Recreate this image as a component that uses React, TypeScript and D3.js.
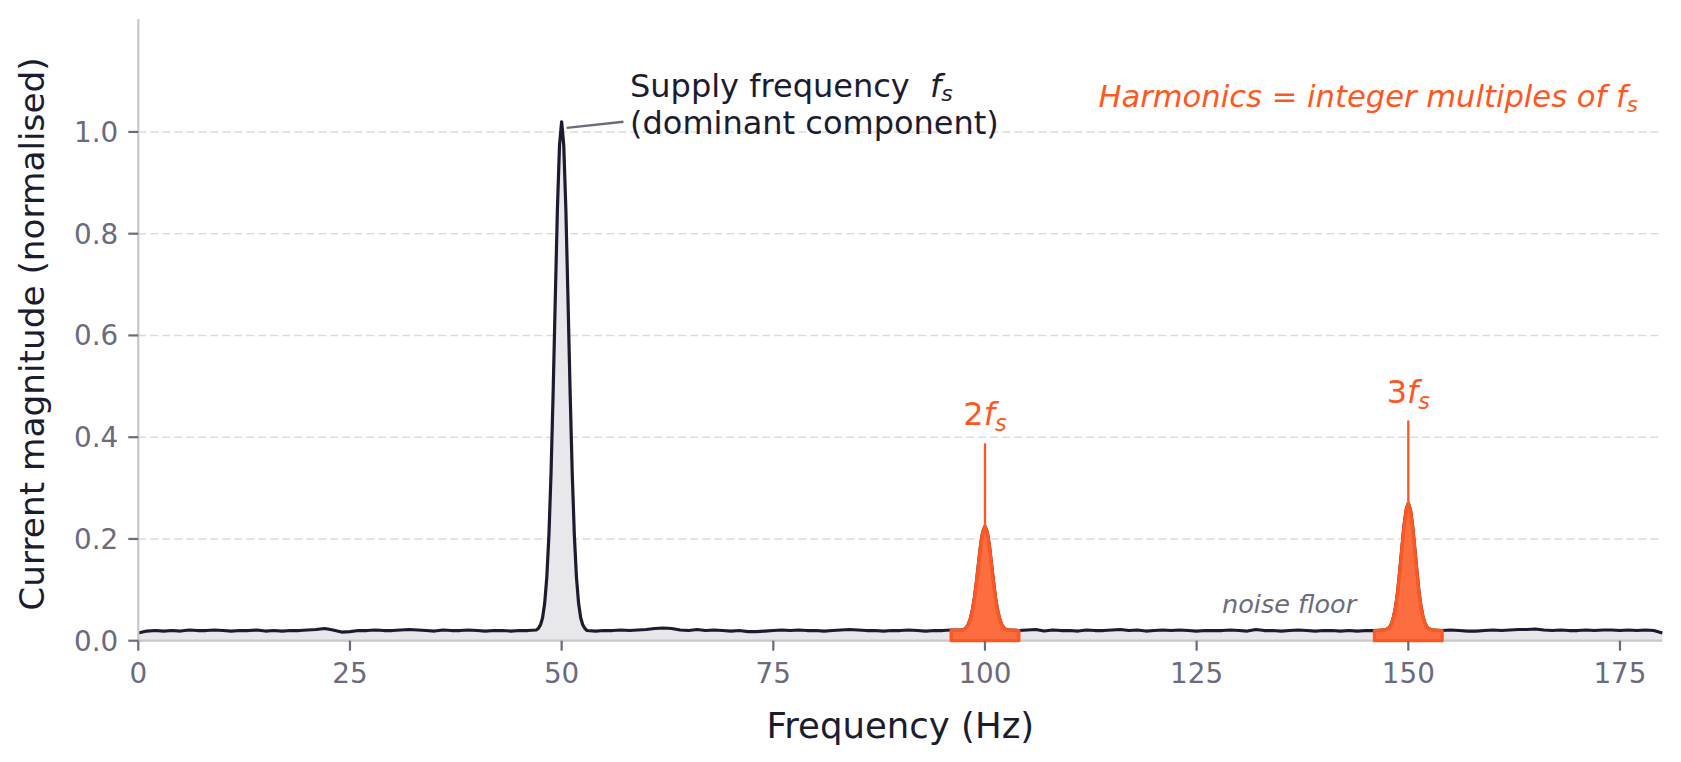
import React from 'react';
import * as d3 from 'd3';

// noise floor, one value per Hz from 0 to 180
const noiseFloor = [
  0.015, 0.019, 0.02, 0.019, 0.02, 0.019, 0.021, 0.02, 0.02, 0.021,
  0.02, 0.019, 0.02, 0.02, 0.021, 0.019, 0.02, 0.019, 0.02, 0.02,
  0.021, 0.022, 0.024, 0.021, 0.017, 0.018, 0.02, 0.02, 0.021, 0.02,
  0.02, 0.021, 0.022, 0.021, 0.02, 0.019, 0.021, 0.02, 0.02, 0.021,
  0.02, 0.019, 0.02, 0.02, 0.019, 0.02, 0.02, 0.021, 0.02, 0.02,
  0.02, 0.02, 0.02, 0.02, 0.019, 0.02, 0.02, 0.021, 0.02, 0.021,
  0.022, 0.024, 0.025, 0.024, 0.021, 0.02, 0.022, 0.02, 0.021, 0.02,
  0.019, 0.02, 0.018, 0.018, 0.019, 0.02, 0.021, 0.02, 0.021, 0.02,
  0.02, 0.019, 0.02, 0.021, 0.022, 0.021, 0.02, 0.02, 0.019, 0.02,
  0.02, 0.021, 0.02, 0.019, 0.02, 0.02, 0.021, 0.021, 0.02, 0.02,
  0.02, 0.02, 0.02, 0.021, 0.02, 0.021, 0.022, 0.019, 0.021, 0.02,
  0.02, 0.019, 0.021, 0.02, 0.02, 0.021, 0.022, 0.02, 0.021, 0.019,
  0.02, 0.021, 0.02, 0.021, 0.02, 0.019, 0.02, 0.02, 0.02, 0.021,
  0.02, 0.019, 0.022, 0.02, 0.02, 0.019, 0.02, 0.021, 0.02, 0.019,
  0.02, 0.02, 0.019, 0.02, 0.019, 0.02, 0.02, 0.021, 0.02, 0.02,
  0.02, 0.02, 0.02, 0.021, 0.02, 0.021, 0.02, 0.019, 0.019, 0.02,
  0.021, 0.02, 0.021, 0.022, 0.022, 0.023, 0.021, 0.02, 0.021, 0.02,
  0.02, 0.021, 0.02, 0.021, 0.021, 0.02, 0.021, 0.02, 0.021, 0.02,
  0.015,
];

// peaks, sampled every 0.25 Hz around the centre
const peakOffsets = [
  -2.75, -2.5, -2.25, -2, -1.75, -1.5, -1.25, -1, -0.75, -0.5, -0.25, 0,
  0.25, 0.5, 0.75, 1, 1.25, 1.5, 1.75, 2, 2.25, 2.5, 2.75,
];
const fundamentalPeak = [
  0.024, 0.031, 0.045, 0.074, 0.125, 0.208, 0.33, 0.49, 0.672, 0.848, 0.974, 1.02,
  0.974, 0.848, 0.672, 0.49, 0.33, 0.208, 0.125, 0.074, 0.045, 0.031, 0.024,
];
const secondPeak = [
  0.021, 0.022, 0.025, 0.031, 0.042, 0.059, 0.084, 0.117, 0.154, 0.19, 0.215, 0.225,
  0.215, 0.19, 0.154, 0.117, 0.084, 0.059, 0.042, 0.031, 0.025, 0.022, 0.021,
];
const thirdPeak = [
  0.021, 0.023, 0.026, 0.033, 0.046, 0.067, 0.098, 0.139, 0.184, 0.227, 0.258, 0.27,
  0.258, 0.227, 0.184, 0.139, 0.098, 0.067, 0.046, 0.033, 0.026, 0.023, 0.021,
];
const peakCentres = [50, 100, 150];
const peakShapes = [fundamentalPeak, secondPeak, thirdPeak];

const harmonicBands = [[96, 104], [146, 154]];
const harmonicLabels = ['2', '3'];
const harmonicTops = [0.225, 0.27];

const xTicks = [0, 25, 50, 75, 100, 125, 150, 175];
const yTicks = [0, 0.2, 0.4, 0.6, 0.8, 1.0];

const W = 1681, H = 762;
const m = { left: 138.3, right: 1662.3, top: 19, bottom: 640.7 };
const DARK = '#1c1c30';
const GREY = '#6b6b7e';
const ORANGE = '#ff5722';
const FONT = '"DejaVu Sans", sans-serif';

type Pt = { f: number; v: number };

const App = () => {
  const x = d3.scaleLinear().domain([0, 180]).range([m.left, m.right]);
  const y = d3.scaleLinear().domain([0, 1.222]).range([m.bottom, m.top]);

  /* merge floor and peak samples into one spectrum */
  const pts: Pt[] = [];
  noiseFloor.forEach((v, f) => {
    if (!peakCentres.some(c => Math.abs(f - c) < 2.9)) pts.push({ f, v });
  });
  peakCentres.forEach((c, i) => {
    peakOffsets.forEach((o, j) => pts.push({ f: c + o, v: peakShapes[i][j] }));
  });
  pts.sort((a, b) => a.f - b.f);

  const line = d3.line<Pt>().x(d => x(d.f)).y(d => y(d.v));
  const area = d3.area<Pt>().x(d => x(d.f)).y0(y(0)).y1(d => y(d.v));

  return (
    <svg width={W} height={H} style={{ position: 'absolute', left: 0, top: 0, background: '#fff' }}
      fontFamily={FONT}>
      {/* grid */}
      {yTicks.filter(t => t > 0).map(t => (
        <line key={t} x1={m.left} x2={m.right} y1={y(t)} y2={y(t)}
          stroke="#dcdcdc" strokeWidth={1.6} strokeDasharray="8,4" />
      ))}

      <path d={area(pts) || ''} fill="#e8e8ec" />
      <path d={line(pts) || ''} fill="none" stroke={DARK} strokeWidth={3.2} strokeLinejoin="round" />

      {/* spines */}
      <line x1={m.left} x2={m.left} y1={m.top} y2={m.bottom} stroke="#c8c8c8" strokeWidth={2.2} />
      <line x1={m.left} x2={m.right} y1={m.bottom} y2={m.bottom} stroke="#c8c8c8" strokeWidth={2.2} />

      {/* harmonic bands */}
      {harmonicBands.map(([lo, hi]) => {
        const seg = pts.filter(p => p.f >= lo && p.f <= hi);
        return (
          <path key={lo} d={area(seg) + 'Z'} fill={ORANGE} fillOpacity={0.85}
            stroke={ORANGE} strokeWidth={3.2} strokeLinejoin="round" />
        );
      })}

      {/* y axis */}
      {yTicks.map(t => (
        <g key={t}>
          <line x1={m.left - 10} x2={m.left} y1={y(t)} y2={y(t)} stroke={GREY} strokeWidth={2.2} />
          <text x={m.left - 20} y={y(t) + 10} textAnchor="end" fontSize={27.8} fill={GREY}>
            {t.toFixed(1)}
          </text>
        </g>
      ))}
      {/* x axis */}
      {xTicks.map(t => (
        <g key={t}>
          <line x1={x(t)} x2={x(t)} y1={m.bottom} y2={m.bottom + 10} stroke={GREY} strokeWidth={2.2} />
          <text x={x(t)} y={683} textAnchor="middle" fontSize={27.8} fill={GREY}>{t}</text>
        </g>
      ))}

      <text x={(m.left + m.right) / 2} y={738} textAnchor="middle" fontSize={35.5} fill={DARK}>
        Frequency (Hz)
      </text>
      <text transform="translate(44,334) rotate(-90)" textAnchor="middle" fontSize={34.3} fill={DARK}>
        Current magnitude (normalised)
      </text>

      {/* fundamental annotation */}
      <line x1={x(50.6)} y1={y(1.008)} x2={x(57.3)} y2={y(1.02)} stroke={GREY} strokeWidth={2.4} />
      <text x={630} y={97} fontSize={32} fill={DARK} style={{ whiteSpace: 'pre' }}>
        {'Supply frequency  '}
        <tspan fontStyle="italic">f</tspan>
        <tspan fontStyle="italic" fontSize={22} dy={4}>s</tspan>
      </text>
      <text x={630} y={134} fontSize={32} fill={DARK}>(dominant component)</text>

      {/* harmonic annotations */}
      {harmonicBands.map(([lo, hi], i) => {
        const c = (lo + hi) / 2;
        const top = harmonicTops[i];
        return (
          <g key={c}>
            <line x1={x(c)} x2={x(c)} y1={y(top)} y2={y(top + 0.163)} stroke={ORANGE} strokeWidth={2.3} />
            <text x={x(c)} y={y(top + 0.2) + 1} textAnchor="middle" fontSize={32} fill={ORANGE}>
              {harmonicLabels[i]}
              <tspan fontStyle="italic">f</tspan>
              <tspan fontStyle="italic" fontSize={22.4} dy={6}>s</tspan>
            </text>
          </g>
        );
      })}

      <text x={1638} y={107} textAnchor="end" fontSize={30.6} fontStyle="italic" fill={ORANGE}>
        Harmonics = integer multiples of f
        <tspan fontSize={21.4} dy={5}>s</tspan>
      </text>

      <text x={x(128)} y={y(0.055)} fontSize={25.5} fontStyle="italic" fill={GREY}>noise floor</text>
    </svg>
  );
};

export default App;
